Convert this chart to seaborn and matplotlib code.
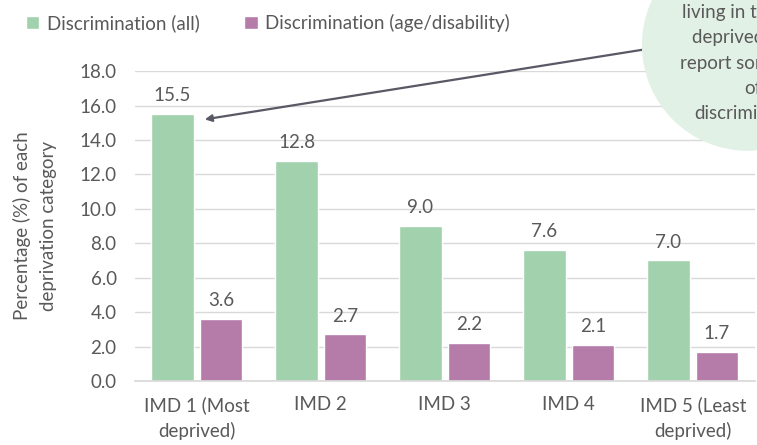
import pandas as pd
import seaborn as sns
import matplotlib.pyplot as plt
from matplotlib.patches import Ellipse

categories = ['IMD 1 (Most\ndeprived)', 'IMD 2', 'IMD 3', 'IMD 4', 'IMD 5 (Least\ndeprived)']
series_names = ['Discrimination (all)', 'Discrimination (age/disability)']
disc_all = [15.5, 12.8, 9.0, 7.6, 7.0]
disc_age = [3.6, 2.7, 2.2, 2.1, 1.7]
yticks = [0, 2, 4, 6, 8, 10, 12, 14, 16, 18]
callout_lines = ['living in the most', 'deprived areas', 'report some form', 'of', 'discrimination']

df = pd.DataFrame({
    'category': categories * 2,
    'series': [series_names[0]] * 5 + [series_names[1]] * 5,
    'value': disc_all + disc_age,
})

sns.set_theme(style='whitegrid')
plt.rcParams['font.family'] = ['Lato', 'DejaVu Sans']
grey = '#595959'
fs = 13.5

fig = plt.figure(figsize=(7.57, 4.45), dpi=100)
ax = fig.add_axes([0.178, 0.144, 0.819, 0.696])
ax.patch.set_alpha(0)

# background bubble of the callout
fig.patches.append(Ellipse((0.988, 0.899), 0.280, 0.476, transform=fig.transFigure,
                           facecolor='#e2f1e5', edgecolor='none', zorder=0))

sns.barplot(data=df, x='category', y='value', hue='series', ax=ax,
            palette=['#a1d2ad', '#b57ba9'], width=0.78, gap=0.12, saturation=1)

for cont in ax.containers:
    ax.bar_label(cont, fmt='%.1f', padding=7, color=grey, fontsize=fs)

ax.set_ylim(0, 18)
ax.set_yticks(yticks)
ax.set_yticklabels([f'{v:.1f}' for v in yticks])
ax.grid(axis='y', color='#d9d9d9', linewidth=1)
ax.grid(axis='x', visible=False)
ax.set_axisbelow(True)
sns.despine(ax=ax, left=True, top=True, right=True)
ax.spines['bottom'].set_color('#d9d9d9')
ax.tick_params(axis='y', length=0, pad=13, labelsize=fs, labelcolor=grey)
ax.tick_params(axis='x', length=0, pad=11, labelsize=fs, labelcolor=grey)
for lbl in ax.get_xticklabels():
    lbl.set_linespacing(1.55)
ax.set_xlabel('')
ax.set_ylabel('Percentage (%) of each\ndeprivation category', color=grey, fontsize=fs,
              labelpad=16, linespacing=1.65)

handles, labels = ax.get_legend_handles_labels()
ax.legend(handles, labels, loc='center left', bbox_to_anchor=(0.012, 0.948),
          bbox_transform=fig.transFigure, ncol=2, frameon=False, fontsize=fs,
          handlelength=0.7, handleheight=0.7, handletextpad=0.4, columnspacing=2.4,
          labelcolor=grey)

# callout text (runs off the right edge like the original)
for i, line in enumerate(callout_lines):
    fig.text(0.994, 0.972 - i * 0.057, line, ha='center', va='center',
             color=grey, fontsize=fs)

ax.annotate('', xy=(0.065, 15.2), xycoords='data',
            xytext=(0.848, 0.888), textcoords='figure fraction',
            arrowprops=dict(arrowstyle='-|>', color='#595966', lw=1.6,
                            mutation_scale=10, shrinkA=0, shrinkB=0))

fig.savefig('out.png', dpi=100)
